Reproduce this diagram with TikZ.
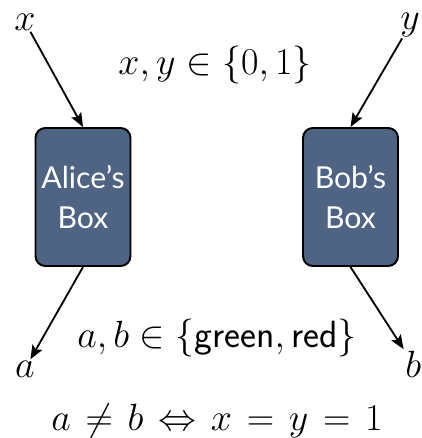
\documentclass[tikz,border=0pt]{standalone}
\usepackage{fix-cm}
\usepackage{amsmath}
\usepackage{fontspec}
\newfontfamily\boxfont{Lato}
\usetikzlibrary{arrows.meta,positioning}
\definecolor{boxblue}{RGB}{78,100,130}
\tikzset{
    blackbox/.style={rectangle, draw=black, line width=1.4pt, rounded corners=7pt, fill=boxblue, minimum width=2.375cm, minimum height=3.45cm, text=white, align=center, font=\boxfont\fontsize{21.5}{29}\selectfont},
    wire/.style={-{Stealth[length=10pt,width=8pt,inset=2pt]}, line width=1.3pt},
    var/.style={font=\fontsize{27}{32}\selectfont, inner sep=1pt}
}

\begin{document}
\begin{tikzpicture}
    \useasboundingbox (0,0) rectangle (10.525,10.95);

    % Boxes
    \node[blackbox] (alice) at (2.075,6.025) {Alice’s\\Box};
    \node[blackbox] (bob) at (8.7625,6.025) {Bob’s\\Box};

    % Inputs and outputs
    \node[var] (xin) at (0.625,10.4) {$x$};
    \node[var] (yin) at (10.25,10.33) {$y$};
    \node[var] (aout) at (0.62,1.72) {$a$};
    \node[var] (bout) at (10.33,1.85) {$b$};

    % Conditions
    \node[var, anchor=base] (inputs) at (5.375,9.075) {$x,y\in\{0,1\}$};
    \node[var, anchor=base] (outputs) at (5.425,2.25) {$a,b\in\{\textsf{green},\textsf{red}\}$};
    \node[var, anchor=base] (rule) at (5.425,0.2) {\thickmuskip=7mu $a\neq b\Leftrightarrow x=y=1$};

    % Wires
    \draw[wire] (xin) -- (alice.north);
    \draw[wire] (yin) -- (bob.north);
    \draw[wire] (alice.south) -- (aout);
    \draw[wire] (bob.south) -- (bout);
\end{tikzpicture}
\end{document}
